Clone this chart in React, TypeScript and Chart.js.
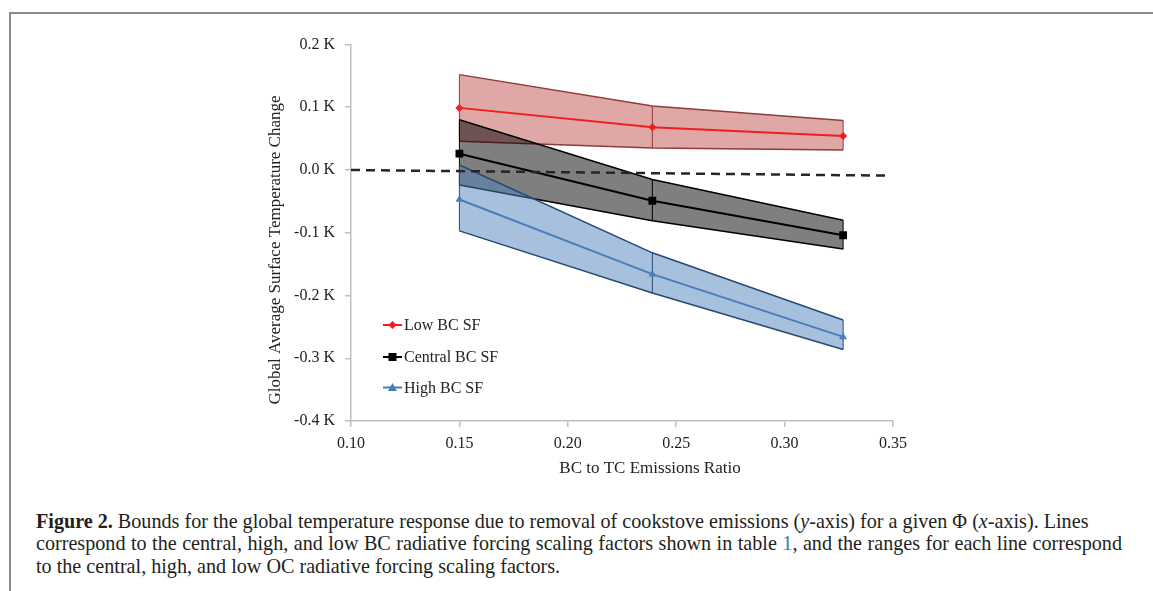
import React, { useEffect, useLayoutEffect, useRef } from 'react';
import { Chart, registerables } from 'chart.js';

Chart.register(...registerables);

// ---- data ----
const xValues = [0.15, 0.239, 0.327];
const lowCentral = [0.099, 0.068, 0.054];
const lowUpper = [0.152, 0.102, 0.079];
const lowLower = [0.046, 0.035, 0.032];
const centralCentral = [0.026, -0.049, -0.104];
const centralUpper = [0.08, -0.015, -0.08];
const centralLower = [-0.024, -0.081, -0.126];
const highCentral = [-0.047, -0.166, -0.266];
const highUpper = [0.008, -0.132, -0.239];
const highLower = [-0.097, -0.196, -0.286];
const zeroLineX = [0.1, 0.3475];
const zeroLineY = [0, -0.009];
const seriesLabels = ['Low BC SF', 'Central BC SF', 'High BC SF'];
const xAxisTitle = 'BC to TC Emissions Ratio';
const yAxisTitle = 'Global Average Surface Temperature Change';

const FONT = '"Liberation Serif", "Times New Roman", serif';
const CAPTION_LINE1_WIDTH = 1053;
const CAPTION_LINE2_WIDTH = 1086;

type Style = {
  line: string;
  edge: string;
  fill: string;
  marker: 'diamond' | 'square' | 'triangle';
  size: number;
};

const styles: Style[] = [
  { line: '#F01E1E', edge: '#8E3B3A', fill: 'rgba(192,80,77,0.5)', marker: 'diamond', size: 4 },
  { line: '#000000', edge: '#000000', fill: 'rgba(0,0,0,0.5)', marker: 'square', size: 4 },
  { line: '#4A7EBB', edge: '#274A74', fill: 'rgba(79,129,189,0.5)', marker: 'triangle', size: 4.5 },
];

const centrals = [lowCentral, centralCentral, highCentral];
const uppers = [lowUpper, centralUpper, highUpper];
const lowers = [lowLower, centralLower, highLower];

const pts = (ys: number[]) => xValues.map((x, i) => ({ x, y: ys[i] }));

function drawMarker(ctx: CanvasRenderingContext2D, kind: string, x: number, y: number, r: number, color: string) {
  ctx.save();
  ctx.fillStyle = color;
  ctx.beginPath();
  if (kind === 'diamond') {
    ctx.moveTo(x, y - r);
    ctx.lineTo(x + r, y);
    ctx.lineTo(x, y + r);
    ctx.lineTo(x - r, y);
  } else if (kind === 'square') {
    ctx.rect(x - r, y - r, 2 * r, 2 * r);
  } else {
    ctx.moveTo(x, y - r);
    ctx.lineTo(x + r, y + r * 0.8);
    ctx.lineTo(x - r, y + r * 0.8);
  }
  ctx.closePath();
  ctx.fill();
  ctx.restore();
}

const pointStyleOf = (k: string) => (k === 'diamond' ? 'rectRot' : k === 'square' ? 'rect' : 'triangle');

const overlayPlugin = {
  id: 'overlay',
  afterDraw(chart: any) {
    const { ctx, chartArea } = chart;
    ctx.save();
    // legend
    const legendY = [280.5, 312.5, 343];
    ctx.font = `16px ${FONT}`;
    ctx.textBaseline = 'middle';
    ctx.textAlign = 'left';
    seriesLabels.forEach((label, i) => {
      const st = styles[i];
      const y = chartArea.top + legendY[i];
      const x0 = chartArea.left + 32;
      ctx.strokeStyle = st.line;
      ctx.lineWidth = 2;
      ctx.beginPath();
      ctx.moveTo(x0, y);
      ctx.lineTo(x0 + 19, y);
      ctx.stroke();
      drawMarker(ctx, st.marker, x0 + 9.5, y, st.size, st.line);
      ctx.fillStyle = '#222';
      ctx.fillText(label, x0 + 21, y + 1);
    });
    // axis titles
    ctx.font = `17px ${FONT}`;
    ctx.fillStyle = '#222';
    ctx.textAlign = 'center';
    ctx.textBaseline = 'middle';
    ctx.fillText(xAxisTitle, (chartArea.left + chartArea.right) / 2 + 28, chartArea.bottom + 48);
    ctx.save();
    ctx.translate(chartArea.left - 75, chartArea.top + 205.5);
    ctx.rotate(-Math.PI / 2);
    ctx.fillText(yAxisTitle, 0, 0);
    ctx.restore();
    ctx.restore();
  },
};

function ChartCanvas() {
  const ref = useRef<HTMLCanvasElement | null>(null);
  useEffect(() => {
    if (!ref.current) return;
    const datasets: any[] = [];
    datasets.push({
      label: 'zero',
      data: zeroLineX.map((x, i) => ({ x, y: zeroLineY[i] })),
      borderColor: '#262626',
      borderWidth: 2.5,
      borderDash: [9, 6],
      pointRadius: 0,
      fill: false,
      order: 0,
    });
    styles.forEach((st, s) => {
      const base = 30 - s * 10;
      const vbar: any[] = [];
      xValues.forEach((x, i) => {
        vbar.push({ x, y: lowers[s][i] });
        vbar.push({ x, y: uppers[s][i] });
        vbar.push({ x, y: null });
      });
      datasets.push({
        label: seriesLabels[s] + ' upper',
        data: pts(uppers[s]),
        borderColor: st.edge,
        borderWidth: 1.5,
        backgroundColor: st.fill,
        fill: '+1',
        pointRadius: 0,
        tension: 0,
        order: base + 4,
      });
      datasets.push({
        label: seriesLabels[s] + ' lower',
        data: pts(lowers[s]),
        borderColor: st.edge,
        borderWidth: 1.5,
        fill: false,
        pointRadius: 0,
        order: base + 3,
      });
      datasets.push({
        label: seriesLabels[s] + ' range',
        data: vbar,
        borderColor: st.edge,
        borderWidth: 1,
        fill: false,
        pointRadius: 0,
        spanGaps: false,
        order: base + 2,
      });
      datasets.push({
        label: seriesLabels[s],
        data: pts(centrals[s]),
        borderColor: st.line,
        borderWidth: 2,
        fill: false,
        pointStyle: pointStyleOf(st.marker),
        pointRadius: st.marker === 'square' ? 5.5 : st.size,
        pointBackgroundColor: st.line,
        pointBorderColor: st.line,
        pointBorderWidth: 0,
        order: base + 1,
      });
    });

    const chart = new Chart(ref.current, {
      type: 'line',
      data: { datasets },
      plugins: [overlayPlugin],
      options: {
        animation: false,
        responsive: false,
        maintainAspectRatio: false,
        layout: { padding: { top: 24.5, right: 30, bottom: 0, left: 0 } },
        plugins: { legend: { display: false }, tooltip: { enabled: false } },
        scales: {
          x: {
            type: 'linear',
            min: 0.1,
            max: 0.35,
            afterFit: (s: any) => { s.height = 60; },
            ticks: {
              stepSize: 0.05,
              padding: 7,
              color: '#222',
              font: { family: FONT, size: 16 },
              callback: (v: any) => Number(v).toFixed(2),
            },
            grid: { display: true, drawOnChartArea: false, drawTicks: true, tickLength: 6, color: '#BFBFBF', lineWidth: 1.5 },
            border: { display: true, color: '#BFBFBF', width: 1.5 },
          },
          y: {
            type: 'linear',
            min: -0.4,
            max: 0.2,
            afterFit: (s: any) => { s.width = 111; },
            ticks: {
              stepSize: 0.1,
              padding: 10,
              color: '#222',
              font: { family: FONT, size: 16 },
              callback: (v: any) => `${Number(v).toFixed(1)} K`,
            },
            grid: { display: true, drawOnChartArea: false, drawTicks: true, tickLength: 6, color: '#BFBFBF', lineWidth: 1.5 },
            border: { display: true, color: '#BFBFBF', width: 1.5 },
          },
        },
      } as any,
    });
    return () => chart.destroy();
  }, []);
  return (
    <canvas
      ref={ref}
      width={683}
      height={461}
      style={{ position: 'absolute', left: 240, top: 20, width: 683, height: 461 }}
    />
  );
}

export default function App() {
  const l1 = useRef<HTMLDivElement | null>(null);
  const l2 = useRef<HTMLDivElement | null>(null);
  const l3 = useRef<HTMLDivElement | null>(null);

  useLayoutEffect(() => {
    const a = l1.current, b = l2.current, c = l3.current;
    if (!a || !b || !c) return;
    const w1 = a.getBoundingClientRect().width;
    const fs = (18 * CAPTION_LINE1_WIDTH) / w1;
    [a, b, c].forEach((el) => { el.style.fontSize = `${fs}px`; });
    const w2 = b.getBoundingClientRect().width;
    const spaces = ((b.textContent || '').match(/ /g) || []).length;
    if (spaces > 0) b.style.wordSpacing = `${(CAPTION_LINE2_WIDTH - w2) / spaces}px`;
  }, []);

  const capStyle: React.CSSProperties = {
    position: 'absolute',
    left: 36,
    whiteSpace: 'nowrap',
    fontFamily: FONT,
    fontSize: 18,
    lineHeight: '22.5px',
    color: '#231F20',
  };
  return (
    <div style={{ position: 'absolute', left: 0, top: 0, width: 1153, height: 591, background: '#fff', overflow: 'hidden' }}>
      <div style={{ position: 'absolute', left: 9, top: 12, width: 1200, height: 700, borderTop: '2px solid #8A8A8A', borderLeft: '2px solid #8A8A8A' }} />
      <ChartCanvas />
      <div ref={l1} style={{ ...capStyle, top: 509.5 }}>
        <b>Figure 2.</b> Bounds for the global temperature response due to removal of cookstove emissions (<i>y</i>-axis) for a given Φ (<i>x</i>-axis). Lines
      </div>
      <div ref={l2} style={{ ...capStyle, top: 532 }}>
        correspond to the central, high, and low BC radiative forcing scaling factors shown in table <span style={{ color: '#2B7BB9' }}>1</span>, and the ranges for each line correspond
      </div>
      <div ref={l3} style={{ ...capStyle, top: 554.5 }}>
        to the central, high, and low OC radiative forcing scaling factors.
      </div>
    </div>
  );
}
